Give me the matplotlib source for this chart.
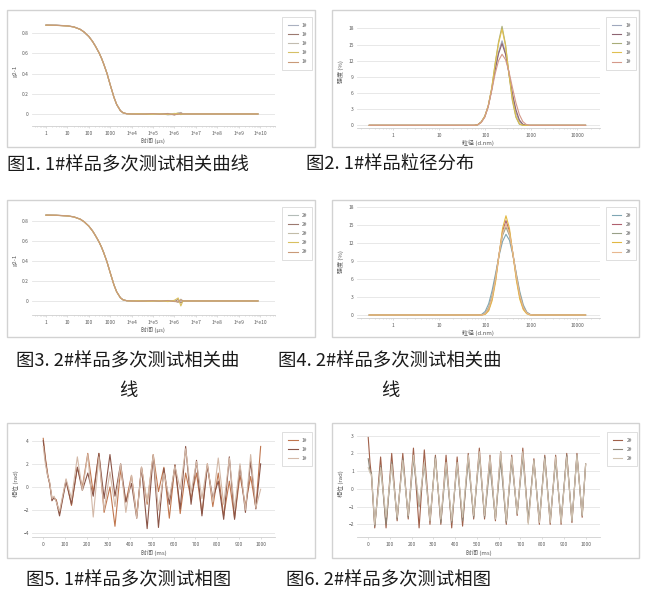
import matplotlib
matplotlib.use('Agg')
import matplotlib.pyplot as plt
from matplotlib.patches import Rectangle
from matplotlib.ticker import LogLocator, NullFormatter

plt.rcParams['font.family'] = ['Noto Sans CJK SC', 'DejaVu Sans']

# ---- data: correlation curves (g2-1 vs delay time, us) ----
tau = [1, 3, 10, 20, 40, 60, 100, 150, 200, 300, 400, 500, 700, 1000, 1500, 2000,
       3000, 4000, 6000, 1e4, 2e4, 5e4, 1e5, 2e5, 5e5, 1e6, 1.5e6, 2e6, 2.5e6,
       1e7, 1e8, 1e9, 8e9]
corr1_runs = [
    [0.881, 0.879, 0.873, 0.862, 0.838, 0.812, 0.768, 0.718, 0.675, 0.607, 0.548, 0.494, 0.405, 0.290, 0.165, 0.095,
     0.033, 0.012, 0.002, 0.000, -0.003, 0.002, -0.004, 0.004, -0.008, -0.004, 0.010, 0.015, 0.000, 0, 0, 0, 0],
    [0.879, 0.878, 0.872, 0.862, 0.837, 0.811, 0.767, 0.717, 0.674, 0.606, 0.547, 0.493, 0.404, 0.289, 0.164, 0.094,
     0.032, 0.011, 0.002, 0.000, 0.002, -0.003, 0.003, -0.002, 0.005, -0.010, 0.004, -0.006, 0.000, 0, 0, 0, 0],
    [0.880, 0.879, 0.873, 0.863, 0.838, 0.812, 0.769, 0.719, 0.676, 0.608, 0.549, 0.495, 0.406, 0.291, 0.166, 0.096,
     0.034, 0.012, 0.003, 0.001, -0.001, 0.003, 0.001, -0.004, -0.003, 0.006, -0.005, 0.012, 0.000, 0, 0, 0, 0],
    [0.878, 0.877, 0.871, 0.861, 0.837, 0.811, 0.767, 0.717, 0.674, 0.606, 0.547, 0.493, 0.404, 0.289, 0.164, 0.094,
     0.032, 0.011, 0.002, 0.000, 0.003, -0.002, -0.003, 0.002, -0.006, 0.003, 0.008, -0.004, 0.000, 0, 0, 0, 0],
    [0.880, 0.878, 0.872, 0.862, 0.838, 0.812, 0.768, 0.718, 0.675, 0.607, 0.548, 0.494, 0.405, 0.290, 0.165, 0.095,
     0.033, 0.012, 0.002, 0.000, -0.002, 0.001, 0.004, -0.003, 0.002, -0.006, -0.004, 0.009, 0.000, 0, 0, 0, 0],
]
corr2_runs = [
    [0.856, 0.854, 0.848, 0.838, 0.815, 0.790, 0.746, 0.698, 0.655, 0.589, 0.532, 0.480, 0.393, 0.282, 0.160, 0.092,
     0.032, 0.011, 0.002, 0.000, -0.002, 0.003, -0.003, 0.002, -0.005, 0.004, -0.012, 0.010, 0.000, 0, 0, 0, 0],
    [0.855, 0.853, 0.847, 0.837, 0.814, 0.789, 0.745, 0.697, 0.654, 0.588, 0.531, 0.479, 0.392, 0.281, 0.159, 0.091,
     0.031, 0.011, 0.002, 0.000, 0.002, -0.002, 0.002, -0.004, 0.003, -0.006, 0.015, -0.020, 0.000, 0, 0, 0, 0],
    [0.856, 0.854, 0.848, 0.838, 0.815, 0.790, 0.746, 0.698, 0.655, 0.589, 0.532, 0.480, 0.393, 0.282, 0.160, 0.092,
     0.032, 0.012, 0.002, 0.000, -0.001, 0.002, 0.001, -0.003, -0.004, 0.005, -0.015, 0.018, 0.000, 0, 0, 0, 0],
    [0.854, 0.853, 0.847, 0.837, 0.814, 0.789, 0.745, 0.697, 0.654, 0.588, 0.531, 0.479, 0.392, 0.281, 0.159, 0.091,
     0.031, 0.011, 0.002, 0.000, 0.003, -0.003, -0.002, 0.003, -0.006, 0.006, 0.030, -0.050, 0.000, 0, 0, 0, 0],
    [0.855, 0.854, 0.848, 0.838, 0.815, 0.790, 0.746, 0.698, 0.655, 0.589, 0.532, 0.480, 0.393, 0.282, 0.160, 0.092,
     0.032, 0.011, 0.002, 0.000, -0.003, 0.001, 0.003, -0.002, 0.004, -0.005, -0.010, 0.012, 0.000, 0, 0, 0, 0],
]

# ---- data: size distributions (intensity % vs size, d.nm) ----
sizes1 = [0.3, 1, 10, 30, 58, 68, 81, 97, 115, 137, 163, 193, 230, 274, 325, 387, 460, 547,
          650, 773, 919, 1093, 1300, 3000, 15000]
dist1_runs = [
    [0, 0, 0, 0, 0, 0.1, 0.6, 1.7, 3.6, 6.7, 10.5, 13.6, 15.7, 13.5, 9.6, 5.5, 2.4, 0.7, 0.1, 0, 0, 0, 0, 0, 0],
    [0, 0, 0, 0, 0, 0.1, 0.6, 1.6, 3.5, 6.6, 10.3, 13.3, 15.2, 13.2, 9.7, 5.9, 2.9, 1.0, 0.2, 0, 0, 0, 0, 0, 0],
    [0, 0, 0, 0, 0, 0.1, 0.6, 1.6, 3.5, 6.8, 11.5, 15.5, 18.4, 15.0, 9.5, 4.5, 1.5, 0.2, 0, 0, 0, 0, 0, 0, 0],
    [0, 0, 0, 0, 0, 0.1, 0.6, 1.7, 3.6, 6.9, 11.4, 15.2, 17.9, 14.8, 9.6, 4.8, 1.7, 0.3, 0, 0, 0, 0, 0, 0, 0],
    [0, 0, 0, 0, 0, 0.1, 0.5, 1.5, 3.4, 6.4, 9.6, 12.0, 13.2, 12.2, 10.0, 7.0, 4.2, 2.0, 0.7, 0.15, 0, 0, 0, 0, 0],
]
sizes2 = [0.3, 1, 10, 30, 70, 83, 99, 118, 140, 167, 198, 236, 280, 333, 396, 471, 560, 666,
          792, 941, 1119, 1331, 3000, 15000]
dist2_runs = [
    [0, 0, 0, 0, 0, 0.1, 0.6, 1.9, 4.1, 7.0, 9.9, 12.3, 13.5, 12.5, 10.0, 6.9, 3.9, 1.7, 0.5, 0.1, 0, 0, 0, 0],
    [0, 0, 0, 0, 0, 0, 0.2, 0.9, 2.8, 6.0, 10.1, 14.0, 15.8, 14.0, 10.2, 6.2, 3.0, 1.1, 0.3, 0.05, 0, 0, 0, 0],
    [0, 0, 0, 0, 0, 0.05, 0.3, 1.3, 3.3, 6.5, 10.2, 13.3, 14.7, 13.3, 10.3, 6.7, 3.5, 1.4, 0.4, 0.07, 0, 0, 0, 0],
    [0, 0, 0, 0, 0, 0, 0.1, 0.7, 2.4, 5.6, 10.0, 14.5, 16.6, 14.5, 10.2, 5.8, 2.6, 0.9, 0.2, 0, 0, 0, 0, 0],
    [0, 0, 0, 0, 0, 0, 0.25, 1.1, 3.0, 6.2, 10.1, 13.6, 15.2, 13.6, 10.3, 6.5, 3.3, 1.3, 0.35, 0.05, 0, 0, 0, 0],
]

# ---- data: phase plots (rad vs ms) ----
t1 = [0, 10, 20, 30, 40, 50, 60, 75, 105, 130, 157, 180, 205, 230, 256, 280, 307, 330, 356, 380,
      406, 430, 452, 478, 506, 530, 555, 580, 606, 630, 655, 680, 705, 730, 755, 780, 805, 830,
      856, 880, 905, 930, 954, 978, 1000]
phase1_runs = [
    [4.2, 2.5, 1.2, 0.2, -0.9, -1.0, -1.1, -2.3, 0.6, -1.6,
     1.7, 0.0, 2.9, -0.5, 2.9, -2.2, 0.0, -3.4, 1.5, -1.3,
     1.0, -2.5, 1.7, -1.5, 2.8, -0.4, 1.7, -2.7, 1.9, -2.3,
     1.2, -1.0, 1.2, -2.3, 2.0, -1.7, 1.2, -2.5, 0.5, -2.7,
     1.0, -1.6, 0.9, -1.8, 3.5],
    [4.0, 2.3, 1.0, 0.3, -1.2, -0.9, -1.2, -2.5, 0.5, -1.5,
     1.7, -0.3, 1.2, -0.8, 2.9, -1.0, 2.8, -0.8, 2.0, -1.3,
     0.3, -2.7, 1.7, -3.6, 2.7, -3.5, 1.6, -1.5, 1.9, -1.9,
     3.5, -1.5, 2.3, -2.5, 1.8, -1.0, 0.5, -2.8, 2.6, -2.8,
     1.8, -2.2, 2.2, -1.9, 2.0],
    [3.5, 2.0, 1.0, 0.4, -1.0, -0.8, -1.3, -2.1, 0.7, -1.0,
     2.6, -0.3, 2.8, -2.6, 2.6, -2.0, 1.3, -1.7, 2.0, -2.2,
     1.0, -2.7, 1.7, -1.3, 2.8, -2.0, 1.2, -1.0, 1.8, -0.2,
     3.3, -0.5, 2.2, -1.0, 2.0, -1.3, 2.5, -1.5, 2.5, -1.9,
     2.0, -2.0, 2.8, -1.8, -0.2],
]
t2 = [0, 8, 15, 30, 57, 82, 108, 133, 159, 184, 208, 234, 258, 284, 309, 334, 358, 384, 409, 434,
      460, 485, 511, 535, 560, 585, 609, 635, 660, 685, 711, 736, 762, 787, 812, 837, 862, 887,
      913, 937, 960, 984, 1000]
phase2_runs = [
    [2.9, 1.5, 0.7, -2.2, 1.8, -2.2, 2.0, -1.8, 2.0, -1.7,
     2.3, -2.2, 2.2, -2.0, 1.9, -2.0, 1.9, -2.2, 1.8, -2.1,
     2.0, -1.7, 2.3, -1.7, 1.9, -1.8, 2.1, -2.0, 1.9, -1.5,
     2.3, -1.9, 1.7, -2.0, 1.9, -2.0, 1.9, -2.0, 2.0, -1.9,
     2.0, -1.6, 1.4],
    [1.7, 1.0, 0.9, -2.1, 1.3, -2.0, 1.5, -1.7, 1.7, -1.6,
     1.7, -1.0, 1.4, -1.8, 1.8, -1.9, 1.3, -1.9, 1.4, -1.8,
     1.6, -1.6, 1.9, -1.6, 1.3, -1.7, 1.6, -1.9, 1.6, -1.4,
     1.8, -1.7, 1.6, -1.8, 1.8, -1.8, 1.6, -1.8, 1.9, -1.8,
     1.9, -1.5, 1.4],
    [1.2, 0.9, 0.8, -2.0, 1.2, -1.6, 1.4, -1.6, 1.6, -1.5,
     1.9, -0.9, 1.5, -1.8, 1.7, -1.7, 1.5, -1.8, 1.5, -1.6,
     1.9, -1.5, 2.1, -1.5, 1.8, -1.7, 2.1, -1.8, 1.8, -1.4,
     2.1, -2.0, 1.6, -1.9, 1.7, -1.9, 1.8, -1.9, 1.8, -1.8,
     1.9, -1.5, 1.4],
]

corr_ticks = [1, 10, 100, 1000, 1e4, 1e5, 1e6, 1e7, 1e8, 1e9, 1e10]
corr_ticklabels = ['1', '10', '100', '1000', '1+e4', '1+e5', '1+e6', '1+e7', '1+e8', '1+e9', '1+e10']
size_ticks = [1, 10, 100, 1000, 10000]
size_ticklabels = ['1', '10', '100', '1000', '10000']

captions = ['图1. 1#样品多次测试相关曲线', '图2. 1#样品粒径分布',
            '图3. 2#样品多次测试相关曲\n线', '图4. 2#样品多次测试相关曲\n线',
            '图5. 1#样品多次测试相图', '图6. 2#样品多次测试相图']

corr1_colors = ['#aab1c0', '#9c7a70', '#c2bcb0', '#d6c066', '#c99a78']
corr2_colors = ['#b4bcb8', '#9c7a70', '#c2bca8', '#d9c060', '#c99a78']
dist1_colors = ['#9fa8bd', '#8e6472', '#a8ad78', '#e0c050', '#d5998a']
dist2_colors = ['#7fa6b4', '#b0606e', '#98a088', '#e2b842', '#e8b890']
phase1_colors = ['#c0764e', '#8a5548', '#d3b9a8']
phase2_colors = ['#a0604a', '#8f8678', '#cfc2b0']

W, H = 650, 611
fig = plt.figure(figsize=(6.5, 6.11), dpi=100)
fig.patch.set_facecolor('white')


def box(l, t, r, b):
    return [l / W, 1 - b / H, (r - l) / W, (b - t) / H]


def frame(l, t, r, b):
    fig.patches.append(Rectangle((l / W, 1 - b / H), (r - l) / W, (b - t) / H,
                                 transform=fig.transFigure, fill=False,
                                 edgecolor='#d2d2d2', lw=1.0))


def style(ax):
    for s in ['top', 'right', 'left']:
        ax.spines[s].set_visible(False)
    ax.spines['bottom'].set_color('#cfcfcf')
    ax.spines['bottom'].set_linewidth(0.6)
    ax.grid(axis='y', color='#e4e4e4', lw=0.6)
    ax.set_axisbelow(True)
    ax.tick_params(axis='both', labelsize=3.5, labelcolor='#595959', pad=2)
    ax.tick_params(axis='y', length=0)
    ax.tick_params(axis='x', which='both', color='#cfcfcf', length=1.5, width=0.5)
    ax.tick_params(axis='x', which='minor', length=1.0)


def legend(ax, lines, x, y):
    lg = ax.legend(lines, loc='upper left', bbox_to_anchor=(x / W, 1 - y / H),
                   bbox_transform=fig.transFigure, fontsize=3.5, fancybox=False,
                   edgecolor='#d0d0d0', handlelength=2.0, handletextpad=0.8,
                   labelspacing=0.85, borderpad=1.1, labelcolor='#595959')
    lg.get_frame().set_linewidth(0.6)


lab_font = dict(fontsize=4.3, color='#595959')

# panel frames
for l, t, r, b in [(7, 10, 315, 147), (332, 10, 639, 147), (7, 200, 315, 337),
                   (332, 200, 639, 337), (7, 423, 315, 558), (332, 423, 639, 558)]:
    frame(l, t, r, b)

# ---- correlation panels ----
for (top, bot, runs, colors, ylim, lab, lgy) in [
        (15, 126, corr1_runs, corr1_colors, (-0.119, 0.98), '1#', 15),
        (205, 315, corr2_runs, corr2_colors, (-0.14, 0.956), '2#', 205)]:
    ax = fig.add_axes(box(31.7, top, 275, bot))
    for run, c in zip(runs, colors):
        ax.plot(tau, run, color=c, lw=0.8, label=lab)
    ax.set_xscale('log')
    ax.set_xlim(10 ** -0.668, 10 ** 10.7)
    ax.set_ylim(*ylim)
    ax.set_xticks(corr_ticks)
    ax.set_xticklabels(corr_ticklabels)
    ax.xaxis.set_minor_locator(LogLocator(base=10, subs=range(2, 10), numticks=100))
    ax.xaxis.set_minor_formatter(NullFormatter())
    ax.set_yticks([0, 0.2, 0.4, 0.6, 0.8])
    ax.set_yticklabels(['0', '0.2', '0.4', '0.6', '0.8'])
    style(ax)
    ax.set_xlabel('时间 (μs)', labelpad=1.5, **lab_font)
    ax.set_ylabel('g2-1', labelpad=3, **lab_font)
    legend(ax, [lab] * 5, 280, lgy)

# ---- size distribution panels ----
for (top, bot, sizes, runs, colors, ylim, lab, lgy) in [
        (15, 128, sizes1, dist1_runs, dist1_colors, (-0.5, 20.5), '1#', 15),
        (205, 317.7, sizes2, dist2_runs, dist2_colors, (-0.45, 18.4), '2#', 205)]:
    ax = fig.add_axes(box(356.7, top, 600, bot))
    for run, c in zip(runs, colors):
        ax.plot(sizes, run, color=c, lw=0.8, label=lab)
    ax.set_xscale('log')
    ax.set_xlim(10 ** -0.796, 10 ** 4.49)
    ax.set_ylim(*ylim)
    ax.set_xticks(size_ticks)
    ax.set_xticklabels(size_ticklabels)
    ax.xaxis.set_minor_locator(LogLocator(base=10, subs=range(2, 10), numticks=100))
    ax.xaxis.set_minor_formatter(NullFormatter())
    ax.set_yticks([0, 3, 6, 9, 12, 15, 18])
    style(ax)
    ax.set_xlabel('粒径 (d.nm)', labelpad=1.5, **lab_font)
    ax.set_ylabel('强度 (%)', labelpad=3, **lab_font)
    legend(ax, [lab] * 5, 604, lgy)

# ---- phase panels ----
for (left, right, t, runs, colors, ylim, yticks, lab, lgx) in [
        (31.7, 275, t1, phase1_runs, phase1_colors, (-4.35, 4.92), [-4, -2, 0, 2, 4], '1#', 280),
        (356.7, 600, t2, phase2_runs, phase2_colors, (-2.73, 3.32), [-2, -1, 0, 1, 2, 3], '2#', 605)]:
    ax = fig.add_axes(box(left, 430, right, 537.3))
    for run, c in zip(runs, colors):
        ax.plot(t, run, color=c, lw=0.8, label=lab)
    ax.set_xlim(-53, 1066)
    ax.set_ylim(*ylim)
    ax.set_xticks(range(0, 1001, 100))
    ax.set_yticks(yticks)
    style(ax)
    ax.set_xlabel('时间 (ms)', labelpad=1.5, **lab_font)
    ax.set_ylabel('相位 (rad)', labelpad=3, **lab_font)
    legend(ax, [lab] * 3, lgx, 430)

# ---- captions ----
cap_pos = [(128, 165), (390, 165), (128, 376), (390, 376), (128.5, 580), (389, 580)]
for (cx, cy), txt in zip(cap_pos, captions):
    fig.text(cx / W, 1 - cy / H, txt, ha='center', va='center', fontsize=13.2,
             color='#1a1a1a', linespacing=1.85, multialignment='center')

fig.savefig('out.png', dpi=100, facecolor='white')
